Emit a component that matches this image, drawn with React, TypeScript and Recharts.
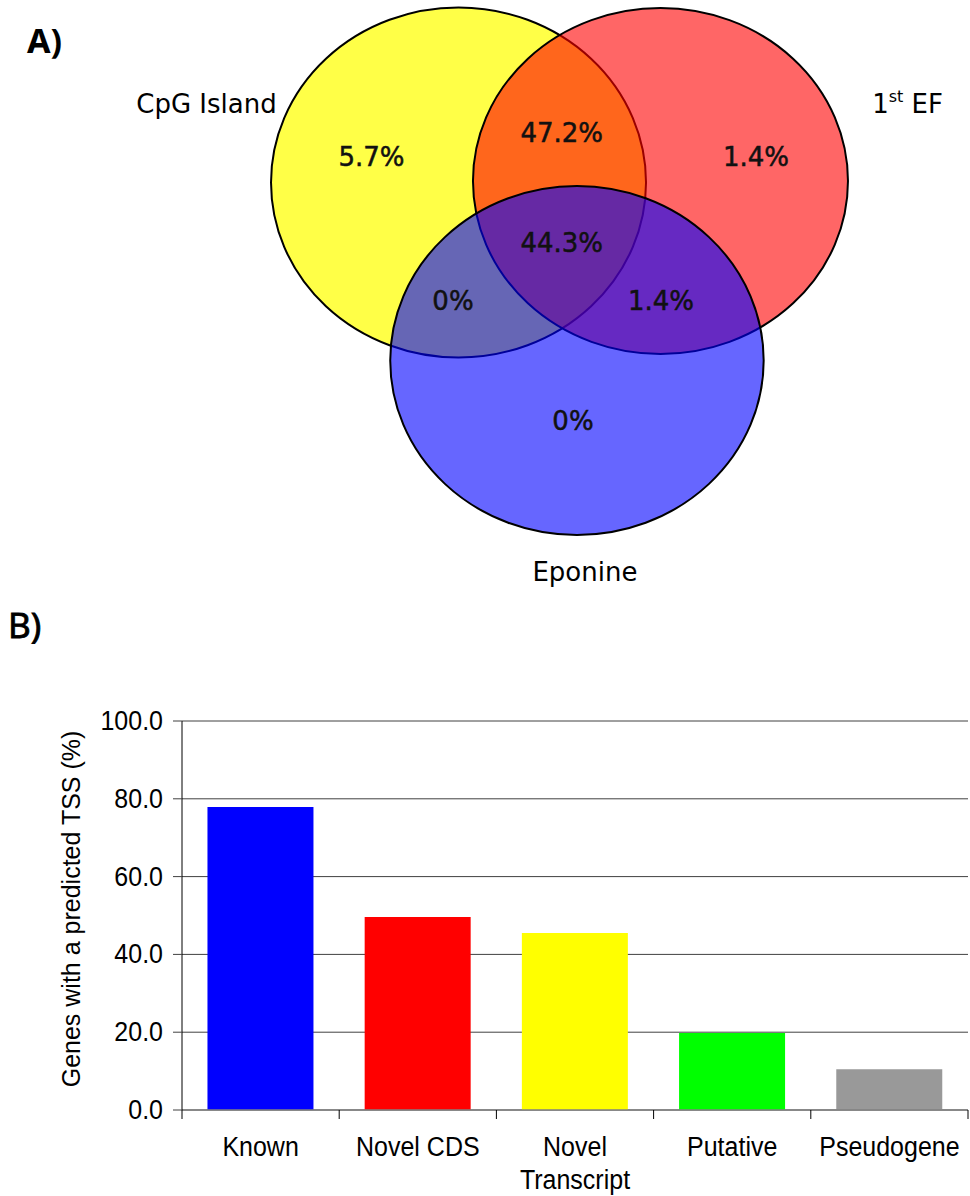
import React from 'react';
import {
  ScatterChart,
  Scatter,
  XAxis,
  YAxis,
  BarChart,
  Bar,
  Cell,
  CartesianGrid,
  Label,
} from 'recharts';

// ---------------- Panel A: Venn diagram (abstract layout units) ----------------
const vennSets = ['CpG Island', '1st EF', 'Eponine'];
const vennCenterX = [47.27, 68.09, 59.48];
const vennCenterY = [18.25, 18.1, 36.05];
const vennRadiusX = [19.33, 19.33, 19.25];
const vennRadiusY = [17.5, 17.3, 17.45];
const vennColors = ['#FFFF00', '#FF0000', '#0000FF'];
const vennOpacity = [0.72, 0.6, 0.6];

const regionLabels = ['5.7%', '47.2%', '1.4%', '44.3%', '0%', '1.4%', '0%'];
const regionX = [38.3, 57.91, 77.94, 57.91, 46.7, 68.14, 59.07];
const regionY = [16.6, 14.2, 16.6, 25.2, 31.0, 31.0, 43.0];

const setLabelMain = ['CpG Island', '1', 'Eponine'];
const setLabelSup = ['', 'st', ''];
const setLabelTail = ['', ' EF', ''];
const setLabelX = [21.29, 93.56, 60.3];
const setLabelY = [11.3, 11.3, 58.1];

// ---------------- Panel B: bar chart ----------------
const categories = ['Known', 'Novel CDS', 'Novel Transcript', 'Putative', 'Pseudogene'];
const tickLabelLines = [['Known'], ['Novel CDS'], ['Novel', 'Transcript'], ['Putative'], ['Pseudogene']];
const tssPercent = [77.9, 49.6, 45.5, 19.8, 10.5];
const barColors = ['#0000FF', '#FF0000', '#FFFF00', '#00FF00', '#999999'];
const yTicks = [0, 20, 40, 60, 80, 100];
const yAxisTitle = 'Genes with a predicted TSS (%)';

// ---------------- layout constants ----------------
const VENN_W = 970;
const VENN_H = 600;
const X_SPAN = 100;
const Y_SPAN = 60;
const KX = VENN_W / X_SPAN;
const KY = VENN_H / Y_SPAN;

const BAR_TOP = 650;
const BAR_W = 970;
const BAR_H = 546;
const B_MARGIN = { top: 71, right: 2, bottom: 0, left: 82 };
const Y_AXIS_W = 100;
const X_AXIS_H = 86;
const PLOT_W = BAR_W - B_MARGIN.left - B_MARGIN.right - Y_AXIS_W;
const PLOT_H = BAR_H - B_MARGIN.top - B_MARGIN.bottom - X_AXIS_H;
const AXIS_Y = B_MARGIN.top + PLOT_H;
const BAND = PLOT_W / categories.length;

const VENN_FONT = '"DejaVu Sans", "Noto Sans", sans-serif';
const BAR_FONT = '"Liberation Sans", Arial, sans-serif';

const circleData = vennSets.map((name, i) => ({
  name,
  x: vennCenterX[i],
  y: vennCenterY[i],
  rx: vennRadiusX[i],
  ry: vennRadiusY[i],
  color: vennColors[i],
  opacity: vennOpacity[i],
}));

const regionData = regionLabels.map((text, i) => ({ text, x: regionX[i], y: regionY[i] }));

const setLabelData = setLabelMain.map((text, i) => ({
  text,
  sup: setLabelSup[i],
  tail: setLabelTail[i],
  x: setLabelX[i],
  y: setLabelY[i],
}));

const barData = categories.map((name, i) => ({ name, value: tssPercent[i], idx: i }));

const EllipseShape = (props: any) => {
  const { cx, cy, payload } = props;
  if (cx == null || cy == null) return null;
  return (
    <ellipse
      cx={cx}
      cy={cy}
      rx={payload.rx * KX}
      ry={payload.ry * KY}
      fill={payload.color}
      fillOpacity={payload.opacity}
      stroke="#000"
      strokeWidth={2}
    />
  );
};

const RegionText = (props: any) => {
  const { cx, cy, payload } = props;
  if (cx == null || cy == null) return null;
  return (
    <text
      x={cx}
      y={cy}
      textAnchor="middle"
      fontFamily={VENN_FONT}
      fontSize={26}
      fill="#111"
      stroke="#111"
      strokeWidth={0.5}
    >
      {payload.text}
    </text>
  );
};

const SetText = (props: any) => {
  const { cx, cy, payload } = props;
  if (cx == null || cy == null) return null;
  return (
    <text x={cx} y={cy} textAnchor="middle" fontFamily={VENN_FONT} fontSize={26} fill="#000">
      {payload.text}
      {payload.sup ? (
        <tspan dy={-11} fontSize={16}>
          {payload.sup}
        </tspan>
      ) : null}
      {payload.tail ? <tspan dy={payload.sup ? 11 : 0}>{payload.tail}</tspan> : null}
    </text>
  );
};

const YTick = (props: any) => {
  const { x, y, payload } = props;
  return (
    <g transform={`translate(${x},${y + 9}) scale(1,1.12)`}>
      <text x={0} y={0} textAnchor="end" fontFamily={BAR_FONT} fontSize={25} fill="#000">
        {Number(payload.value).toFixed(1)}
      </text>
    </g>
  );
};

const XTick = (props: any) => {
  const { x, payload, index } = props;
  const i = typeof index === 'number' ? index : categories.indexOf(payload.value);
  const lines = tickLabelLines[i] || [String(payload.value)];
  const left = x - BAND / 2;
  const right = x + BAND / 2;
  return (
    <g>
      <line x1={left} x2={left} y1={AXIS_Y} y2={AXIS_Y + 9} stroke="#000" strokeWidth={1} />
      {i === categories.length - 1 ? (
        <line x1={right} x2={right} y1={AXIS_Y} y2={AXIS_Y + 9} stroke="#000" strokeWidth={1} />
      ) : null}
      <g transform={`translate(${x},${AXIS_Y + 46}) scale(1,1.12)`}>
        {lines.map((ln: string, k: number) => (
          <text
            key={k}
            x={0}
            y={k * 29.5}
            textAnchor="middle"
            fontFamily={BAR_FONT}
            fontSize={25}
            fill="#000"
          >
            {ln}
          </text>
        ))}
      </g>
    </g>
  );
};

const YTitle = () => (
  <text
    x={71}
    y={909 - BAR_TOP}
    transform={`rotate(-90, 71, ${909 - BAR_TOP})`}
    textAnchor="middle"
    dominantBaseline="central"
    fontFamily={BAR_FONT}
    fontSize={25}
    fill="#000"
  >
    {yAxisTitle}
  </text>
);

export default function App() {
  return (
    <div
      style={{
        position: 'absolute',
        left: 0,
        top: 0,
        width: 970,
        height: 1196,
        background: '#fff',
        overflow: 'hidden',
      }}
    >
      <div style={{ position: 'absolute', left: 0, top: 0 }}>
        <ScatterChart width={VENN_W} height={VENN_H} margin={{ top: 0, right: 0, bottom: 0, left: 0 }}>
          <XAxis type="number" dataKey="x" domain={[0, X_SPAN]} allowDataOverflow hide />
          <YAxis type="number" dataKey="y" domain={[0, Y_SPAN]} allowDataOverflow reversed hide />
          <Scatter data={circleData} shape={EllipseShape} isAnimationActive={false} />
          <Scatter data={regionData} shape={RegionText} isAnimationActive={false} />
          <Scatter data={setLabelData} shape={SetText} isAnimationActive={false} />
        </ScatterChart>
      </div>

      <div style={{ position: 'absolute', left: 0, top: BAR_TOP }}>
        <BarChart
          width={BAR_W}
          height={BAR_H}
          data={barData}
          margin={B_MARGIN}
          barCategoryGap="16.2%"
        >
          <CartesianGrid vertical={false} stroke="#404040" strokeWidth={1} />
          <XAxis
            dataKey="name"
            height={X_AXIS_H}
            interval={0}
            tickLine={false}
            tickSize={9}
            tickMargin={0}
            axisLine={{ stroke: '#808080', strokeWidth: 1.5 }}
            tick={<XTick />}
          />
          <YAxis
            width={Y_AXIS_W}
            domain={[0, 100]}
            ticks={yTicks}
            interval={0}
            tickSize={9}
            tickMargin={10}
            axisLine={{ stroke: '#000', strokeWidth: 1 }}
            tickLine={{ stroke: '#404040', strokeWidth: 1 }}
            tick={<YTick />}
          >
            <Label content={<YTitle />} />
          </YAxis>
          <Bar dataKey="value" isAnimationActive={false}>
            {barData.map((d) => (
              <Cell key={d.name} fill={barColors[d.idx]} />
            ))}
          </Bar>
        </BarChart>
      </div>

      <svg
        width={970}
        height={1196}
        style={{ position: 'absolute', left: 0, top: 0, pointerEvents: 'none' }}
      >
        <text x={27} y={53} fontFamily='"Noto Sans", sans-serif' fontWeight={700} fontSize={34} fill="#000">
          A)
        </text>
        <text
          x={8}
          y={638}
          fontFamily='"Noto Sans", sans-serif'
          fontSize={35}
          fill="#000"
          stroke="#000"
          strokeWidth={0.8}
        >
          B)
        </text>
      </svg>
    </div>
  );
}
